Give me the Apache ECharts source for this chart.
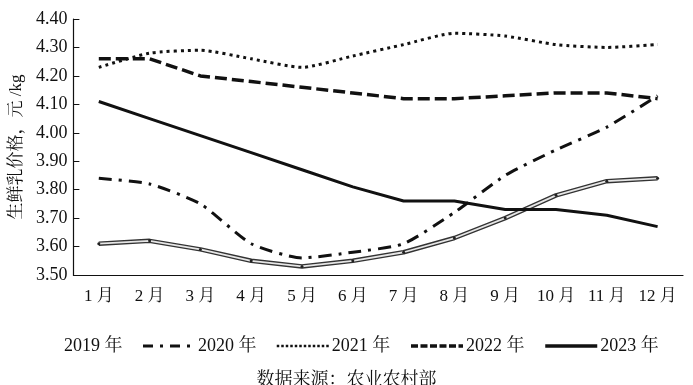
<!DOCTYPE html>
<html><head><meta charset="utf-8">
<script src="https://cdn.jsdelivr.net/npm/echarts@6/dist/echarts.min.js"></script>
<style>html,body{margin:0;padding:0;background:#fff}#c{width:693px;height:385px}</style>
</head><body><div id="c"></div>
<script>
const months = ['1 月','2 月','3 月','4 月','5 月','6 月','7 月','8 月','9 月','10 月','11 月','12 月'];
const seriesNames = ['2019 年','2020 年','2021 年','2022 年','2023 年'];
const v2019 = [3.61,3.62,3.59,3.55,3.53,3.55,3.58,3.63,3.70,3.78,3.83,3.84];
const v2020 = [3.84,3.82,3.75,3.61,3.56,3.58,3.61,3.72,3.85,3.94,4.02,4.13];
const v2021 = [4.23,4.28,4.29,4.26,4.23,4.27,4.31,4.35,4.34,4.31,4.30,4.31];
const v2022 = [4.26,4.26,4.20,4.18,4.16,4.14,4.12,4.12,4.13,4.14,4.14,4.12];
const v2023 = [4.11,4.05,3.99,3.93,3.87,3.81,3.76,3.76,3.73,3.73,3.71,3.67];
const yMin = 3.5, yMax = 4.4, yStep = 0.1;
const yName = '生鲜乳价格，元 /kg';
const sourceText = '数据来源：农业农村部';

const FONT = '"Liberation Serif","Noto Serif CJK SC","Noto Sans CJK SC",serif';
const ink = '#111';
const chart = echarts.init(document.getElementById('c'));
chart.setOption({
  animation: false,
  backgroundColor: '#fff',
  grid: {left: 69, right: 10, top: 19, bottom: 110, containLabel: false},
  xAxis: {
    type: 'category', data: months, boundaryGap: true,
    axisLine: {lineStyle: {color: ink, width: 1.2}},
    axisTick: {inside: true, length: 6, lineStyle: {color: ink}},
    axisLabel: {color: ink, fontFamily: FONT, fontSize: 17, margin: 13}
  },
  yAxis: {
    type: 'value', min: yMin, max: yMax, interval: yStep,
    name: yName, nameLocation: 'middle', nameGap: 47,
    nameTextStyle: {color: ink, fontFamily: FONT, fontSize: 17},
    splitLine: {show: false},
    axisLine: {show: true, lineStyle: {color: ink, width: 1.2}},
    axisTick: {show: true, inside: true, length: 6, lineStyle: {color: ink}},
    axisLabel: {color: ink, fontFamily: FONT, fontSize: 18, margin: 6,
      formatter: v => v.toFixed(2)}
  },
  legend: {
    left: 4, top: 332, itemWidth: 52, itemHeight: 12, itemGap: 19,
    itemStyle: {opacity: 0},
    textStyle: {color: ink, fontFamily: FONT, fontSize: 18, padding: [0,0,0,-2]},
    data: [
      {name: seriesNames[0], icon: 'none'},
      {name: seriesNames[1], lineStyle: {width: 3, type: [10, 7, 3, 7]}},
      {name: seriesNames[2], lineStyle: {width: 2.5, type: [2.5, 2]}},
      {name: seriesNames[3], lineStyle: {width: 3.5, type: [7, 2.5]}},
      {name: seriesNames[4], lineStyle: {width: 3.5}}
    ]
  },
  graphic: [{type: 'text', left: 'center', top: 371,
    style: {text: sourceText, fill: ink, font: '18px ' + FONT}}],
  series: [
    {name: seriesNames[0], type: 'line', data: v2019, symbol: 'none',
      lineStyle: {color: '#333', width: 4.5}, itemStyle: {color: '#fff'}, z: 2},
    {name: '2019w', type: 'line', data: v2019, symbol: 'circle', symbolSize: 3,
      itemStyle: {color: '#222', borderWidth: 0},
      lineStyle: {color: '#e6e6e6', width: 1.8}, z: 3},
    {name: seriesNames[1], type: 'line', data: v2020, symbol: 'none', smooth: 0.2,
      lineStyle: {color: ink, width: 3, type: [13, 7, 3, 7]}, itemStyle: {color: ink}},
    {name: seriesNames[2], type: 'line', data: v2021, symbol: 'none', smooth: 0.2,
      lineStyle: {color: ink, width: 3, type: [3, 4]}, itemStyle: {color: ink}},
    {name: seriesNames[3], type: 'line', data: v2022, symbol: 'none',
      lineStyle: {color: ink, width: 3.5, type: [12, 5]}, itemStyle: {color: ink}},
    {name: seriesNames[4], type: 'line', data: v2023, symbol: 'none',
      lineStyle: {color: ink, width: 3}, itemStyle: {color: ink}}
  ]
});
</script></body></html>
